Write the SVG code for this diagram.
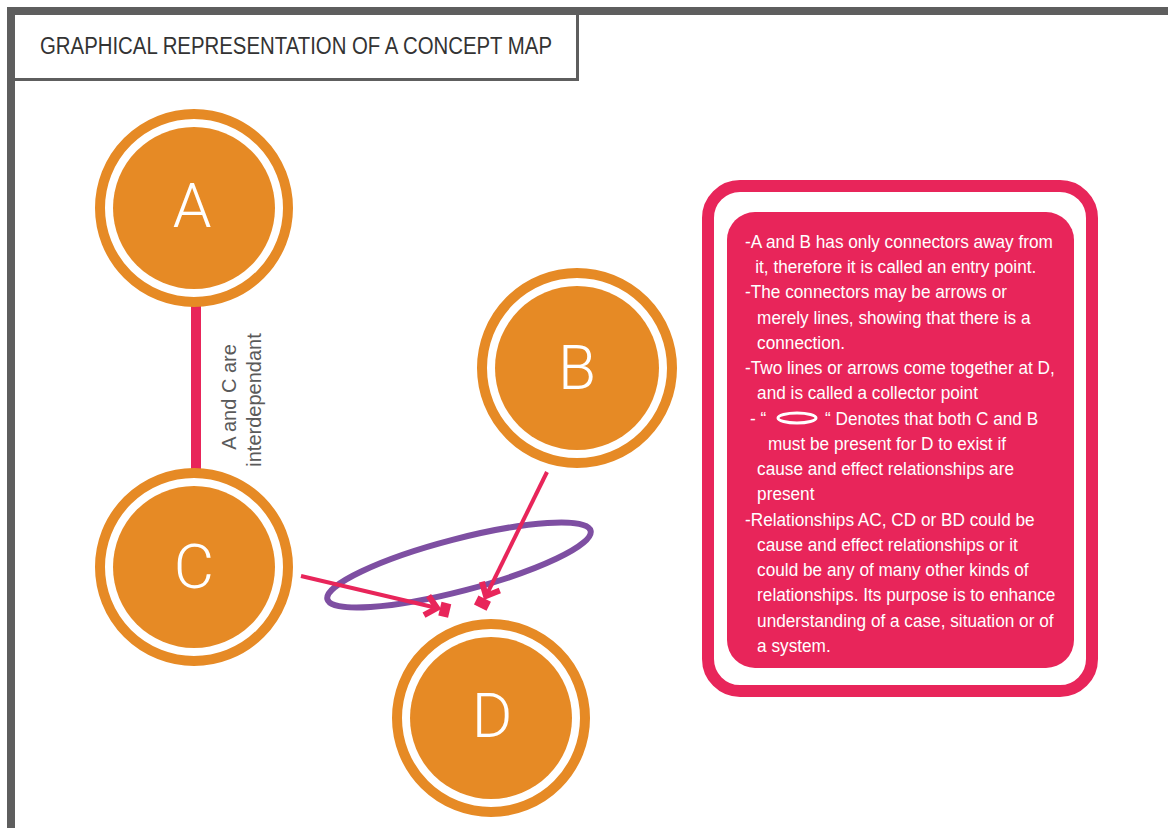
<svg xmlns="http://www.w3.org/2000/svg" width="1168" height="828" viewBox="0 0 1168 828">
  <style>
    .frame { fill: #5e5e5e; }
    .ring { fill: none; stroke: #E68A25; stroke-width: 10; }
    .core { fill: #E68A25; }
    .letter { fill: #ffffff; font-family: Roboto, "Liberation Sans", sans-serif; font-weight: 300; font-size: 62px; text-anchor: middle; }
    .link { stroke: #E8255A; stroke-width: 4; fill: none; }
    .note { fill: #5a5a5a; font-family: "Liberation Sans", Arial, sans-serif; font-size: 20px; text-anchor: middle; }
    .panel-text { fill: #ffffff; font-family: "Liberation Sans", Arial, sans-serif; font-size: 18.5px; }
  </style>
  <defs>
    <marker id="bracket-head" markerUnits="userSpaceOnUse" orient="auto" markerWidth="50" markerHeight="50" refX="0" refY="0" viewBox="-25 -25 50 50">
      <polyline points="-11,-10 0,0 -11,10" fill="none" stroke="#E8255A" stroke-width="6" stroke-linejoin="miter"/>
      <rect x="3" y="-7" width="10" height="14" fill="#E8255A"/>
    </marker>
  </defs>

  <!-- page -->
  <rect x="0" y="0" width="1168" height="828" fill="#ffffff"/>

  <!-- outer frame bars -->
  <rect class="frame" x="7" y="7" width="1161" height="8"/>
  <rect class="frame" x="7" y="7" width="8" height="821"/>

  <!-- title box -->
  <g id="title">
    <rect x="15" y="15" width="562" height="64" fill="#ffffff"/>
    <rect class="frame" x="576" y="15" width="3" height="66"/>
    <rect class="frame" x="15" y="78" width="564" height="3"/>
    <text x="40" y="54" textLength="512" lengthAdjust="spacingAndGlyphs" fill="#333333" font-family="'Liberation Sans', Arial, sans-serif" font-size="23px">GRAPHICAL REPRESENTATION OF A CONCEPT MAP</text>
  </g>

  <!-- connectors -->
  <g id="connectors">
    <ellipse cx="459" cy="565" rx="136" ry="26" transform="rotate(-14.6 459 565)" fill="none" stroke="#7E4FA2" stroke-width="6"/>
    <line x1="196" y1="305" x2="196" y2="470" stroke="#E8255A" stroke-width="10"/>
    <line class="link" x1="301" y1="576" x2="437" y2="608" marker-end="url(#bracket-head)"/>
    <line class="link" x1="547" y1="472" x2="486" y2="596" marker-end="url(#bracket-head)"/>
  </g>

  <!-- connector label -->
  <g id="label-ac">
    <text class="note" transform="translate(236 397) rotate(-90)">A and C are</text>
    <text class="note" transform="translate(261 400) rotate(-90)">interdependant</text>
  </g>

  <!-- nodes -->
  <g id="node-a">
    <circle class="ring" cx="194" cy="208" r="94"/>
    <circle class="core" cx="194" cy="208" r="81"/>
    <text class="letter" x="192" y="227">A</text>
  </g>
  <g id="node-b">
    <circle class="ring" cx="577" cy="368" r="95"/>
    <circle class="core" cx="577" cy="368" r="82"/>
    <text class="letter" x="577" y="389">B</text>
  </g>
  <g id="node-c">
    <circle class="ring" cx="194" cy="567" r="94"/>
    <circle class="core" cx="194" cy="567" r="81"/>
    <text class="letter" x="194" y="588">C</text>
  </g>
  <g id="node-d">
    <circle class="ring" cx="491" cy="718" r="94"/>
    <circle class="core" cx="491" cy="718" r="81"/>
    <text class="letter" x="492" y="737">D</text>
  </g>

  <!-- explanation panel -->
  <g id="panel">
    <rect x="708" y="186" width="384" height="505" rx="32" ry="32" fill="none" stroke="#E8255A" stroke-width="12"/>
    <rect x="727" y="212" width="347" height="456" rx="28" ry="28" fill="#E8255A"/>
    <ellipse cx="797" cy="418" rx="19" ry="5" fill="none" stroke="#ffffff" stroke-width="3"/>
    <g class="panel-text" transform="translate(745 0) scale(0.93 1)">
      <text x="0" y="248">-A and B has only connectors away from</text>
      <text x="11" y="273.25">it, therefore it is called an entry point.</text>
      <text x="0" y="298.5">-The connectors may be arrows or</text>
      <text x="13" y="323.75">merely lines, showing that there is a</text>
      <text x="13" y="349">connection.</text>
      <text x="0" y="374.25">-Two lines or arrows come together at D,</text>
      <text x="13" y="399.5">and is called a collector point</text>
      <text x="5.4" y="424.75">- “</text>
      <text x="86" y="424.75">“  Denotes that both C and B</text>
      <text x="24.7" y="450">must be present for D to exist if</text>
      <text x="13" y="475.25">cause and effect relationships are</text>
      <text x="13" y="500.5">present</text>
      <text x="0" y="525.75">-Relationships AC, CD or BD could be</text>
      <text x="13" y="551">cause and effect relationships or it</text>
      <text x="13" y="576.25">could be any of many other kinds of</text>
      <text x="13" y="601.5">relationships. Its purpose is to enhance</text>
      <text x="13" y="626.75">understanding of a case, situation or of</text>
      <text x="13" y="652">a system.</text>
    </g>
  </g>
</svg>
